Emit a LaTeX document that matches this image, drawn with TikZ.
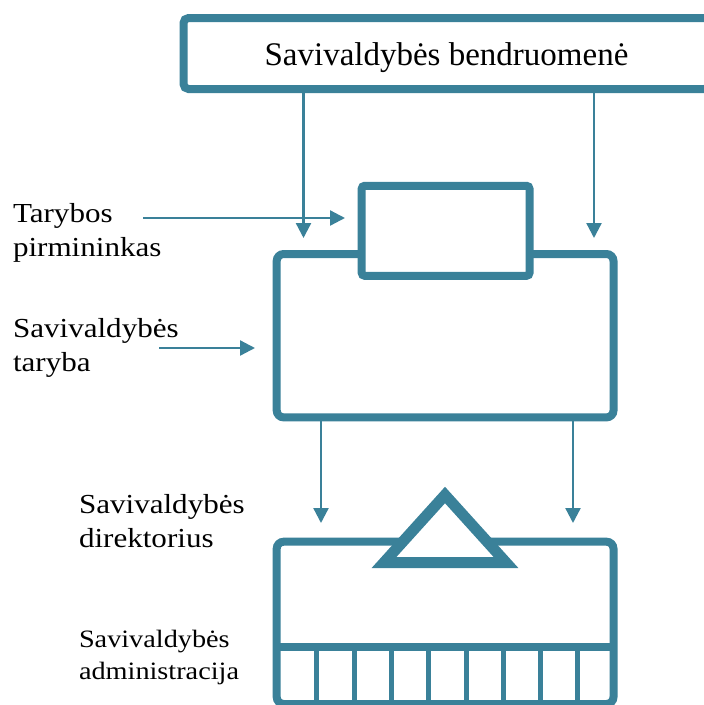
\documentclass[tikz,border=0pt]{standalone}
\usepackage{fontspec}
\setmainfont{Liberation Serif}
\newfontfamily\lblfont{Liberation Serif}[FakeStretch=1.13]
\usetikzlibrary{arrows.meta}
\definecolor{teal1}{RGB}{58,129,153}
\tikzset{
  boxline/.style={draw=teal1, line width=8pt, inner sep=0pt, outer sep=0pt},
  arr/.style={draw=teal1, line width=2.3pt, -{Triangle[length=15pt,width=15pt]}},
  cellline/.style={draw=teal1, line width=5pt},
  lbl/.style={anchor=base west, inner sep=0pt, outer sep=0pt, align=left, font=\lblfont\fontsize{27.5}{34}\selectfont},
  lblsmall/.style={anchor=base west, inner sep=0pt, outer sep=0pt, align=left, font=\lblfont\fontsize{25}{32}\selectfont}
}
\begin{document}
\begin{tikzpicture}[x=1pt,y=-1pt]
\useasboundingbox (0,0) rectangle (704,705);
\clip (0,0) rectangle (704,705);
\fill[white] (0,0) rectangle (704,705);
% top box
\node[boxline, rounded corners=5pt, minimum width=526pt, minimum height=71pt,
      text height=23pt, text depth=0pt, font=\fontsize{33}{40}\selectfont]
      (comm) at (446.5,53.5) {Savivaldybės bendruomenė};
% council and chair
\node[boxline, rounded corners=7pt, minimum width=336.8pt, minimum height=163.4pt] (council) at (445.1,335.7) {};
\node[boxline, fill=white, rounded corners=3pt, minimum width=167.8pt, minimum height=90pt] (chair) at (445.6,230.8) {};
% admin box
\node[boxline, rounded corners=7pt, minimum width=336.8pt, minimum height=162.3pt] (admin) at (445.1,622.85) {};
\coordinate (dv) at (0,647);
\draw[boxline] (admin.west |- dv) -- (admin.east |- dv);
\foreach \i in {0,...,7} \draw[cellline] (316.8+37.3*\i,647) -- (316.8+37.3*\i,705);
% director triangle
\draw[draw=teal1, fill=white, line width=11pt, miter limit=10] (445,495) -- (506,562.5) -- (384,562.5) -- cycle;
% arrows from community
\coordinate (x1) at (303.5,0); \coordinate (t1) at (303.5,238);
\coordinate (x2) at (594,0);   \coordinate (t2) at (594,238);
\draw[arr] (comm.south -| x1) -- (t1);
\draw[arr] (comm.south -| x2) -- (t2);
% arrows from council
\coordinate (x3) at (321,0); \coordinate (t3) at (321,523);
\coordinate (x4) at (573,0); \coordinate (t4) at (573,523);
\draw[arr] (council.south -| x3) -- (t3);
\draw[arr] (council.south -| x4) -- (t4);
% labels (anchor at baseline of last line)
\node[lbl] (lchair) at (13,256) {Tarybos\\pirmininkas};
\node[lbl] (lcouncil) at (13,371) {Savivaldybės\\taryba};
\node[lbl] (ldir) at (79,547) {Savivaldybės\\direktorius};
\node[lblsmall] (ladmin) at (79,679) {Savivaldybės\\administracija};
\coordinate (s1) at (143,218); \coordinate (e1) at (345,218);
\coordinate (s2) at (159,348); \coordinate (e2) at (255,348);
\draw[arr] (s1) -- (e1);
\draw[arr] (s2) -- (e2);
\end{tikzpicture}
\end{document}
